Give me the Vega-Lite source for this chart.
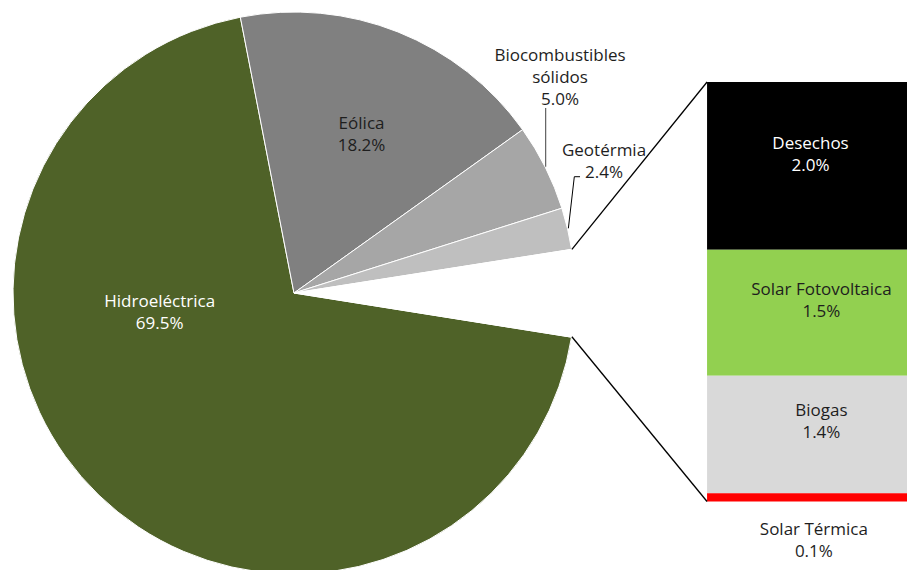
{
  "$schema": "https://vega.github.io/schema/vega-lite/v6.json",
  "width": 907,
  "height": 570,
  "autosize": {"type": "none"},
  "padding": 0,
  "background": "white",
  "config": {"view": {"stroke": null}, "text": {"font": "Open Sans", "fontSize": 17, "lineHeight": 22, "lineBreak": "\n"}},
  "data": {
    "values": [
      {"categoria": "Hidroeléctrica", "valor": 69.5, "grupo": "principal"},
      {"categoria": "Eólica", "valor": 18.2, "grupo": "principal"},
      {"categoria": "Biocombustibles sólidos", "valor": 5.0, "grupo": "principal"},
      {"categoria": "Geotérmia", "valor": 2.4, "grupo": "principal"},
      {"categoria": "Desechos", "valor": 2.0, "grupo": "otros"},
      {"categoria": "Solar Fotovoltaica", "valor": 1.5, "grupo": "otros"},
      {"categoria": "Biogas", "valor": 1.4, "grupo": "otros"},
      {"categoria": "Solar Térmica", "valor": 0.1, "grupo": "otros"}
    ]
  },
  "layer": [
    {
      "transform": [
        {"calculate": "datum.grupo === 'otros' ? 'Otros' : datum.categoria", "as": "segmento"},
        {"aggregate": [{"op": "sum", "field": "valor", "as": "total"}], "groupby": ["segmento"]},
        {"calculate": "indexof(['Otros','Hidroeléctrica','Eólica','Biocombustibles sólidos','Geotérmia'], datum.segmento)", "as": "orden"}
      ],
      "mark": {"type": "arc", "outerRadius": 281, "stroke": "white", "strokeWidth": 1, "clip": true},
      "encoding": {
        "x": {"datum": 3.504, "type": "quantitative", "scale": {"domain": [0, 10.81], "nice": false, "zero": false}, "axis": null},
        "y": {"datum": 2.485, "type": "quantitative", "scale": {"domain": [-0.816, 5.977], "nice": false, "zero": false}, "axis": null},
        "theta": {"field": "total", "type": "quantitative", "stack": true, "scale": {"range": [1.4148, 7.698]}},
        "order": {"field": "orden", "type": "quantitative"},
        "color": {
          "field": "segmento",
          "type": "nominal",
          "legend": null,
          "scale": {
            "domain": ["Otros", "Hidroeléctrica", "Eólica", "Biocombustibles sólidos", "Geotérmia", "Desechos", "Solar Fotovoltaica", "Biogas", "Solar Térmica"],
            "range": ["#FFFFFF", "#4F6228", "#808080", "#A6A6A6", "#BFBFBF", "#000000", "#92D050", "#D9D9D9", "#FF0000"]
          }
        }
      }
    },
    {
      "transform": [
        {"filter": "datum.grupo === 'otros'"},
        {"calculate": "indexof(['Solar Térmica','Biogas','Solar Fotovoltaica','Desechos'], datum.categoria)", "as": "ordenBarra"},
        {"stack": "valor", "groupby": [], "sort": [{"field": "ordenBarra", "order": "ascending"}], "as": ["y0", "y1"]}
      ],
      "mark": {"type": "rect"},
      "encoding": {
        "x": {"datum": 8.427, "type": "quantitative"},
        "x2": {"datum": 10.81},
        "y": {"field": "y0", "type": "quantitative"},
        "y2": {"field": "y1"},
        "color": {"field": "categoria", "type": "nominal", "legend": null}
      }
    },
    {
      "transform": [
        {"filter": "datum.grupo === 'otros'"},
        {"calculate": "indexof(['Solar Térmica','Biogas','Solar Fotovoltaica','Desechos'], datum.categoria)", "as": "ordenBarra"},
        {"stack": "valor", "groupby": [], "sort": [{"field": "ordenBarra", "order": "ascending"}], "as": ["y0", "y1"]},
        {"filter": "datum.categoria === 'Desechos'"},
        {"calculate": "(datum.y0 + datum.y1) / 2", "as": "medio"},
        {"calculate": "datum.categoria + '\\n' + format(datum.valor, '.1f') + '%'", "as": "etiqueta"}
      ],
      "mark": {"type": "text", "align": "center", "baseline": "middle", "dy": -22, "color": "#FFFFFF"},
      "encoding": {
        "x": {"datum": 9.66, "type": "quantitative"},
        "y": {"field": "medio", "type": "quantitative"},
        "text": {"field": "etiqueta"}
      }
    },
    {
      "transform": [
        {"filter": "datum.grupo === 'otros'"},
        {"calculate": "indexof(['Solar Térmica','Biogas','Solar Fotovoltaica','Desechos'], datum.categoria)", "as": "ordenBarra"},
        {"stack": "valor", "groupby": [], "sort": [{"field": "ordenBarra", "order": "ascending"}], "as": ["y0", "y1"]},
        {"filter": "datum.categoria === 'Solar Fotovoltaica' || datum.categoria === 'Biogas'"},
        {"calculate": "(datum.y0 + datum.y1) / 2", "as": "medio"},
        {"calculate": "datum.categoria + '\\n' + format(datum.valor, '.1f') + '%'", "as": "etiqueta"}
      ],
      "mark": {"type": "text", "align": "center", "baseline": "middle", "dy": -23, "color": "#1E1E1E"},
      "encoding": {
        "x": {"datum": 9.79, "type": "quantitative"},
        "y": {"field": "medio", "type": "quantitative"},
        "text": {"field": "etiqueta"}
      }
    },
    {
      "transform": [
        {"filter": "datum.categoria === 'Solar Térmica'"},
        {"calculate": "datum.categoria + '\\n' + format(datum.valor, '.1f') + '%'", "as": "etiqueta"}
      ],
      "mark": {"type": "text", "align": "center", "baseline": "middle", "dy": -10, "color": "#1E1E1E"},
      "encoding": {
        "x": {"datum": 9.70, "type": "quantitative"},
        "y": {"datum": -0.459, "type": "quantitative"},
        "text": {"field": "etiqueta"}
      }
    },
    {
      "transform": [
        {"filter": "datum.categoria === 'Hidroeléctrica'"},
        {"calculate": "datum.categoria + '\\n' + format(datum.valor, '.1f') + '%'", "as": "etiqueta"}
      ],
      "mark": {"type": "text", "align": "center", "baseline": "middle", "dy": -11, "color": "#FFFFFF"},
      "encoding": {
        "x": {"datum": 1.903, "type": "quantitative"},
        "y": {"datum": 2.247, "type": "quantitative"},
        "text": {"field": "etiqueta"}
      }
    },
    {
      "transform": [
        {"filter": "datum.categoria === 'Eólica'"},
        {"calculate": "datum.categoria + '\\n' + format(datum.valor, '.1f') + '%'", "as": "etiqueta"}
      ],
      "mark": {"type": "text", "align": "center", "baseline": "middle", "dy": -10, "color": "#1E1E1E"},
      "encoding": {
        "x": {"datum": 4.309, "type": "quantitative"},
        "y": {"datum": 4.38, "type": "quantitative"},
        "text": {"field": "etiqueta"}
      }
    },
    {
      "transform": [
        {"filter": "datum.categoria === 'Biocombustibles sólidos'"},
        {"calculate": "replace(datum.categoria, ' ', '\\n') + '\\n' + format(datum.valor, '.1f') + '%'", "as": "etiqueta"}
      ],
      "mark": {"type": "text", "align": "center", "baseline": "middle", "dy": -21, "color": "#1E1E1E"},
      "encoding": {
        "x": {"datum": 6.675, "type": "quantitative"},
        "y": {"datum": 5.063, "type": "quantitative"},
        "text": {"field": "etiqueta"}
      }
    },
    {
      "transform": [
        {"filter": "datum.categoria === 'Geotérmia'"},
        {"calculate": "datum.categoria + '\\n' + format(datum.valor, '.1f') + '%'", "as": "etiqueta"}
      ],
      "mark": {"type": "text", "align": "center", "baseline": "middle", "dy": -10, "color": "#1E1E1E"},
      "encoding": {
        "x": {"datum": 7.199, "type": "quantitative"},
        "y": {"datum": 4.055, "type": "quantitative"},
        "text": {"field": "etiqueta"}
      }
    },
    {
      "data": {"values": [{}]},
      "mark": {"type": "rule", "color": "#000000", "strokeWidth": 1.3},
      "encoding": {
        "x": {"datum": 6.816, "type": "quantitative"},
        "y": {"datum": 3.006, "type": "quantitative"},
        "x2": {"datum": 8.427},
        "y2": {"datum": 5.0}
      }
    },
    {
      "data": {"values": [{}]},
      "mark": {"type": "rule", "color": "#000000", "strokeWidth": 1.3},
      "encoding": {
        "x": {"datum": 6.816, "type": "quantitative"},
        "y": {"datum": 1.964, "type": "quantitative"},
        "x2": {"datum": 8.427},
        "y2": {"datum": 0}
      }
    },
    {
      "data": {"values": [{}]},
      "mark": {"type": "rule", "color": "#404040", "strokeWidth": 1},
      "encoding": {
        "x": {"datum": 6.504, "type": "quantitative"},
        "y": {"datum": 4.69, "type": "quantitative"},
        "x2": {"datum": 6.504},
        "y2": {"datum": 3.99}
      }
    },
    {
      "data": {"values": [{}]},
      "mark": {"type": "rule", "color": "#000000", "strokeWidth": 1},
      "encoding": {
        "x": {"datum": 6.913, "type": "quantitative"},
        "y": {"datum": 3.871, "type": "quantitative"},
        "x2": {"datum": 6.845},
        "y2": {"datum": 3.871}
      }
    },
    {
      "data": {"values": [{}]},
      "mark": {"type": "rule", "color": "#000000", "strokeWidth": 1},
      "encoding": {
        "x": {"datum": 6.845, "type": "quantitative"},
        "y": {"datum": 3.871, "type": "quantitative"},
        "x2": {"datum": 6.774},
        "y2": {"datum": 3.256}
      }
    }
  ]
}
